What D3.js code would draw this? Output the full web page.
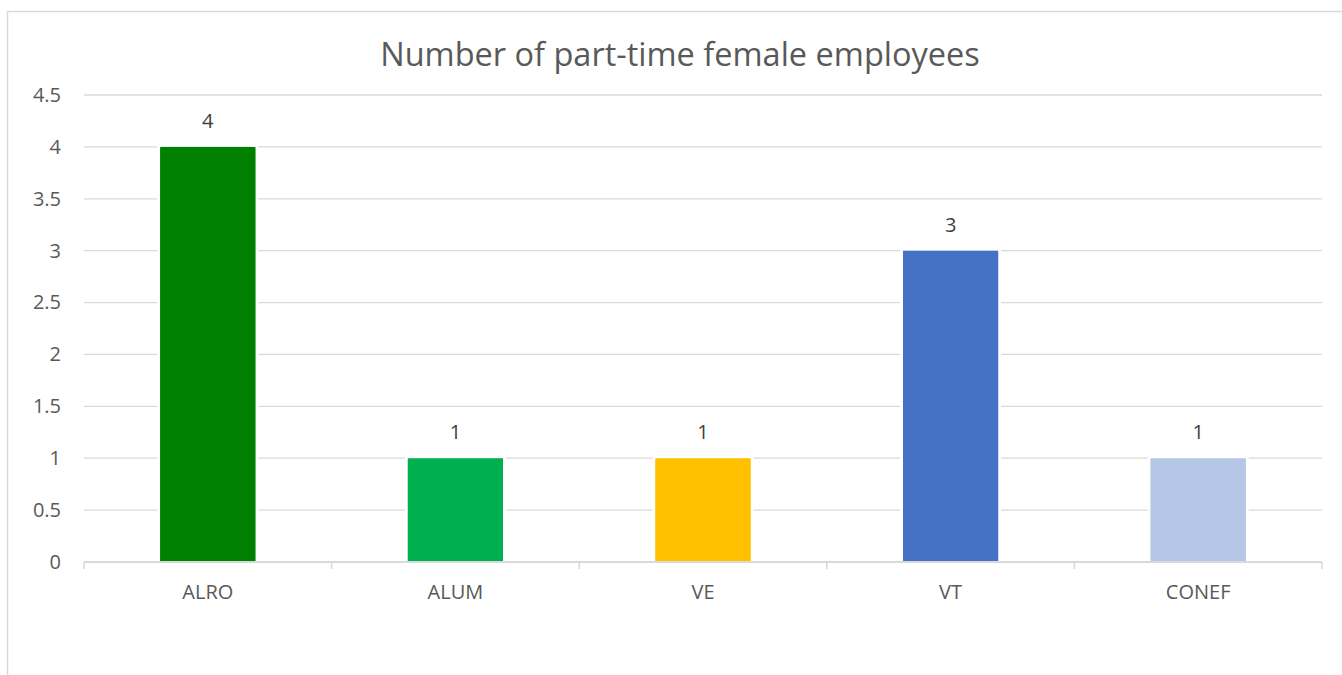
<!DOCTYPE html>
<html>
<head>
<meta charset="utf-8">
<script src="https://cdn.jsdelivr.net/npm/d3@7"></script>
<style>
  body { margin: 0; background: #fff; }
  svg { display: block; font-family: "Open Sans", "Noto Sans", sans-serif; }
</style>
</head>
<body>
<script>
var categories = ["ALRO", "ALUM", "VE", "VT", "CONEF"];
var values = [4, 1, 1, 3, 1];
var barColors = ["#008000", "#00B050", "#FFC000", "#4472C4", "#B4C7E7"];
var yTicks = [0, 0.5, 1, 1.5, 2, 2.5, 3, 3.5, 4, 4.5];
var titleText = "Number of part-time female employees";

var width = 1342, height = 675;
var margin = { top: 95, right: 20, bottom: 113, left: 84 };

var gridColor = "#d9d9d9";
var textColor = "#595959";

const svg = d3.select("body")
    .append("svg")
    .attr("width", width)
    .attr("height", height);

// chart frame (runs off the right and bottom edges like the reference)
svg.append("rect")
    .attr("x", 7.5)
    .attr("y", 11.5)
    .attr("width", width + 20)
    .attr("height", height + 20)
    .attr("fill", "#fff")
    .attr("stroke", gridColor)
    .attr("stroke-width", 1.5);

var x = d3.scaleBand(categories, [margin.left, width - margin.right]).padding(0);
var y = d3.scaleLinear([0, 4.5], [height - margin.bottom, margin.top]);

// title
svg.append("text")
    .attr("x", 680)
    .attr("y", 66)
    .attr("text-anchor", "middle")
    .attr("fill", textColor)
    .attr("font-size", 32.5)
    .text(titleText);

// gridlines
svg.append("g")
    .selectAll("line")
    .data(yTicks.filter(d => d > 0))
    .join("line")
    .attr("x1", x.range()[0])
    .attr("x2", x.range()[1])
    .attr("y1", d => y(d))
    .attr("y2", d => y(d))
    .attr("stroke", gridColor)
    .attr("stroke-width", 1.3);

// y axis labels
const yAxis = svg.append("g")
    .attr("transform", `translate(${margin.left}, 0)`)
    .call(d3.axisLeft(y).tickValues(yTicks).tickSize(0).tickPadding(23).tickFormat(d => d));
yAxis.select(".domain").remove();
yAxis.selectAll("text")
    .attr("fill", textColor)
    .attr("font-size", 20)
    .attr("font-family", "'Open Sans', 'Noto Sans', sans-serif");

// bars
var barW = x.bandwidth() * 0.384;
svg.append("g")
    .selectAll("rect")
    .data(categories)
    .join("rect")
    .attr("x", d => x(d) + (x.bandwidth() - barW) / 2)
    .attr("y", (d, i) => y(values[i]))
    .attr("width", barW)
    .attr("height", (d, i) => y(0) - y(values[i]))
    .attr("fill", (d, i) => barColors[i])
    .attr("stroke", "#fff")
    .attr("stroke-width", 6)
    .attr("paint-order", "stroke");

// redraw the fill on top so the white outline only shows outside
svg.append("g")
    .selectAll("rect")
    .data(categories)
    .join("rect")
    .attr("x", d => x(d) + (x.bandwidth() - barW) / 2)
    .attr("y", (d, i) => y(values[i]) + 1)
    .attr("width", barW)
    .attr("height", (d, i) => y(0) - y(values[i]) - 1)
    .attr("fill", (d, i) => barColors[i]);

// data labels
svg.append("g")
    .selectAll("text")
    .data(categories)
    .join("text")
    .attr("x", d => x(d) + x.bandwidth() / 2)
    .attr("y", (d, i) => y(values[i]) - 19)
    .attr("text-anchor", "middle")
    .attr("fill", "#404040")
    .attr("font-size", 20)
    .text((d, i) => values[i]);

// x axis line and boundary ticks
svg.append("line")
    .attr("x1", x.range()[0])
    .attr("x2", x.range()[1])
    .attr("y1", y(0))
    .attr("y2", y(0))
    .attr("stroke", gridColor)
    .attr("stroke-width", 2);

var bounds = categories.map(d => x(d)).concat([x.range()[1]]);
svg.append("g")
    .selectAll("line")
    .data(bounds)
    .join("line")
    .attr("x1", d => d)
    .attr("x2", d => d)
    .attr("y1", y(0))
    .attr("y2", y(0) + 7)
    .attr("stroke", gridColor)
    .attr("stroke-width", 1.5);

svg.append("g")
    .selectAll("text")
    .data(categories)
    .join("text")
    .attr("x", d => x(d) + x.bandwidth() / 2)
    .attr("y", y(0) + 37)
    .attr("text-anchor", "middle")
    .attr("fill", textColor)
    .attr("font-size", 20)
    .text(d => d);
</script>
</body>
</html>
